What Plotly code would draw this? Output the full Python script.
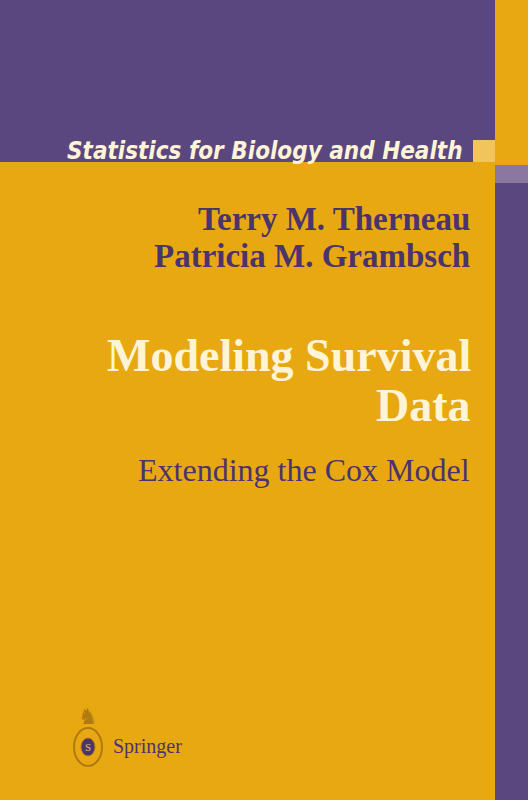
import plotly.graph_objects as go

W, H = 528, 800
orange = "#E8A812"
purple = "#5B4780"
purple_light = "#8A78A0"
cream = "#FFF4D6"
ink = "#4B336E"

series_title = "Statistics for Biology and Health"
authors = ["Terry M. Therneau", "Patricia M. Grambsch"]
title_lines = ["Modeling Survival", "Data"]
subtitle = "Extending the Cox Model"
publisher = "Springer"

fig = go.Figure()

def rect(x0, y0, x1, y1, color):
    fig.add_shape(type="rect", x0=x0, y0=y0, x1=x1, y1=y1, xref="x", yref="y",
                  fillcolor=color, line_width=0, layer="below")

rect(0, 0, W, H, orange)
rect(0, 0, 495, 162, purple)
rect(473, 140, 495, 162, "#F2C45C")
rect(495, 165, W, 183, purple_light)
rect(495, 183, W, H, purple)

def text(x, y, s, size, color, family, anchor="right"):
    fig.add_annotation(x=x, y=y, text=s, showarrow=False, xref="x", yref="y",
                       xanchor=anchor, yanchor="middle",
                       font=dict(size=size, color=color, family=family))

text(465, 151, "<b><i>" + series_title + "</i></b>", 24, cream, "DejaVu Sans Condensed")
for i, a in enumerate(authors):
    text(472, 219 + i * 37, "<b>" + a + "</b>", 33, ink, "Liberation Serif")
for i, t in enumerate(title_lines):
    text(473, 355 + i * 50, "<b>" + t + "</b>", 46, cream, "Liberation Serif")
text(472, 470, subtitle, 32, ink, "Liberation Serif")

# Springer logo
fig.add_shape(type="circle", x0=74, y0=728, x1=102, y1=766, xref="x", yref="y",
              line=dict(color="#B07A10", width=2), fillcolor=orange)
fig.add_shape(type="circle", x0=81, y0=738, x1=95, y1=756, xref="x", yref="y",
              line=dict(color="#B07A10", width=1), fillcolor=ink)
text(88, 747, "S", 11, "#E8C060", "Liberation Serif", anchor="center")
text(88, 716, "♞", 22, "#B07A10", "DejaVu Sans", anchor="center")
text(111, 746, publisher, 20, ink, "Liberation Serif", anchor="left")

fig.update_layout(
    width=W, height=H, margin=dict(l=0, r=0, t=0, b=0),
    paper_bgcolor=orange, plot_bgcolor=orange, showlegend=False,
    xaxis=dict(range=[0, W], visible=False, fixedrange=True),
    yaxis=dict(range=[H, 0], visible=False, fixedrange=True),
)
fig.write_html("out.html", config={"displayModeBar": False},
               post_script="document.body.style.margin='0';")
